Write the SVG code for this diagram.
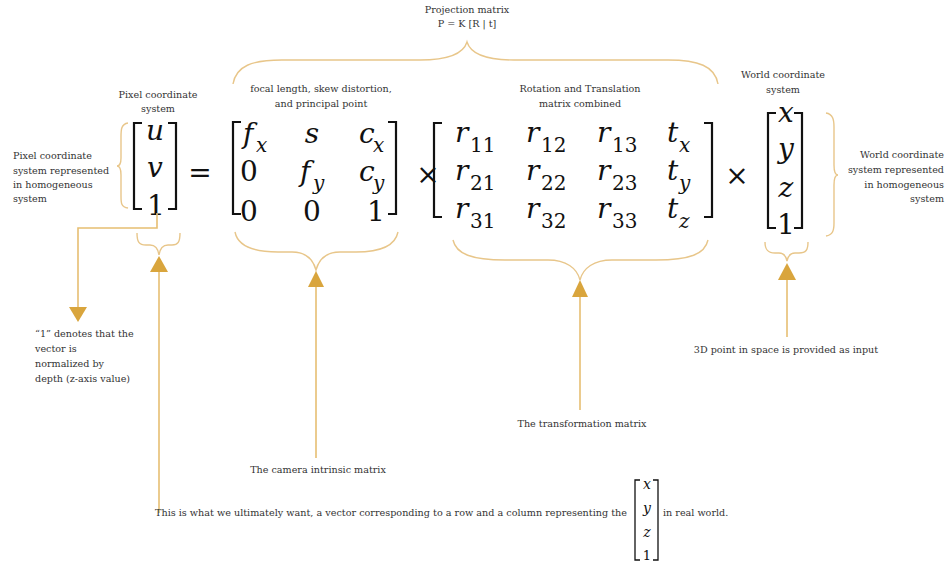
<svg xmlns="http://www.w3.org/2000/svg" width="948" height="564" viewBox="0 0 948 564">
<style>
.lbl{font-family:"DejaVu Serif","Liberation Serif",serif;font-size:9.6px;fill:#333}
.m{font-family:"DejaVu Serif","Liberation Serif",serif;font-size:28px;fill:#111}
.mi{font-family:"DejaVu Serif","Liberation Serif",serif;font-size:28px;font-style:italic;fill:#111}
.sub{font-family:"DejaVu Serif","Liberation Serif",serif;font-size:20px;fill:#111}
.subi{font-family:"DejaVu Serif","Liberation Serif",serif;font-size:20px;font-style:italic;fill:#111}
.smi{font-family:"DejaVu Serif","Liberation Serif",serif;font-size:14px;font-style:italic;fill:#111}
.sm{font-family:"DejaVu Serif","Liberation Serif",serif;font-size:13px;fill:#111}
.brk{fill:none;stroke:#111;stroke-width:2.2}
.brk2{fill:none;stroke:#111;stroke-width:1.3}
.brace{fill:none;stroke:#E8C68A;stroke-width:1.4}
.line{fill:none;stroke:#E6BE72;stroke-width:1.6}
.tri{fill:#D9A53D}
.c{text-anchor:middle}
.e{text-anchor:end}
</style>

<g id="projection-label">
<text class="lbl c" x="467" y="13">Projection matrix</text>
<text class="lbl c" x="467" y="27">P = K [R | t]</text>
</g>

<g id="pixel-vector">
<text class="lbl c" x="158" y="98">Pixel coordinate</text>
<text class="lbl c" x="158" y="112">system</text>
<path class="brk" d="M142,123 H134 V209 H142 M168,123 H176 V209 H168"/>
<text class="mi c" x="155" y="140">u</text>
<text class="mi c" x="155" y="177">v</text>
<text class="m c" x="156" y="215">1</text>
</g>

<g id="pixel-desc">
<text class="lbl" x="13" y="159">Pixel coordinate</text>
<text class="lbl" x="13" y="174">system represented</text>
<text class="lbl" x="13" y="188">in homogeneous</text>
<text class="lbl" x="13" y="202">system</text>
</g>

<g id="equals"><text class="m c" x="200" y="182">=</text></g>

<g id="intrinsic-matrix">
<text class="lbl c" x="321" y="92">focal length, skew distortion,</text>
<text class="lbl c" x="321" y="107">and principal point</text>
<path class="brk" d="M241,122 H233 V214 H241 M388,122 H396 V214 H388"/>
<text class="mi" x="243" y="143">f</text><text class="subi" x="256" y="152">x</text>
<text class="mi c" x="312" y="143">s</text>
<text class="mi" x="359" y="143">c</text><text class="subi" x="373" y="152">x</text>
<text class="m c" x="249" y="181">0</text>
<text class="mi" x="300" y="181">f</text><text class="subi" x="313" y="190">y</text>
<text class="mi" x="359" y="181">c</text><text class="subi" x="373" y="190">y</text>
<text class="m c" x="249" y="221">0</text>
<text class="m c" x="312" y="221">0</text>
<text class="m c" x="376" y="221">1</text>
</g>

<g id="times1"><text class="m c" x="428" y="184">×</text></g>

<g id="rt-matrix">
<text class="lbl c" x="580" y="92">Rotation and Translation</text>
<text class="lbl c" x="580" y="107">matrix combined</text>
<path class="brk" d="M442,123 H434 V217 H442 M704,123 H712 V217 H704"/>
<text class="mi" x="455" y="142">r</text><text class="sub" x="470" y="152">11</text>
<text class="mi" x="526" y="142">r</text><text class="sub" x="541" y="152">12</text>
<text class="mi" x="597" y="142">r</text><text class="sub" x="612" y="152">13</text>
<text class="mi" x="667" y="142">t</text><text class="subi" x="679" y="152">x</text>
<text class="mi" x="455" y="180">r</text><text class="sub" x="470" y="190">21</text>
<text class="mi" x="526" y="180">r</text><text class="sub" x="541" y="190">22</text>
<text class="mi" x="597" y="180">r</text><text class="sub" x="612" y="190">23</text>
<text class="mi" x="667" y="180">t</text><text class="subi" x="679" y="190">y</text>
<text class="mi" x="455" y="218">r</text><text class="sub" x="470" y="228">31</text>
<text class="mi" x="526" y="218">r</text><text class="sub" x="541" y="228">32</text>
<text class="mi" x="597" y="218">r</text><text class="sub" x="612" y="228">33</text>
<text class="mi" x="667" y="218">t</text><text class="subi" x="679" y="228">z</text>
</g>

<g id="times2"><text class="m c" x="737" y="185">×</text></g>

<g id="world-vector">
<text class="lbl c" x="783" y="78">World coordinate</text>
<text class="lbl c" x="783" y="93">system</text>
<path class="brk" d="M776,113 H768 V228 H776 M794,113 H802 V228 H794"/>
<text class="mi c" x="786" y="122">x</text>
<text class="mi c" x="786" y="158">y</text>
<text class="mi c" x="786" y="197">z</text>
<text class="m c" x="786" y="234">1</text>
</g>

<g id="world-desc">
<text class="lbl e" x="944" y="158">World coordinate</text>
<text class="lbl e" x="944" y="173">system represented</text>
<text class="lbl e" x="944" y="188">in homogeneous</text>
<text class="lbl e" x="944" y="202">system</text>
</g>

<g id="braces">
<path class="brace" d="M233,84 C236,66 252,60 282,60 L420,60 C447,60 463,55 467,42 C471,55 487,60 514,60 L668,60 C698,60 715,66 718,84"/>
<path class="brace" d="M128,123 C121,124 121,130 121,137 L121,158 C121,163 120,166 117,166 C120,166 121,170 121,175 L121,196 C121,203 121,207 128,208"/>
<path class="brace" d="M826,113 C833,114 834,120 834,127 L834,165 C834,171 835,175 838,175 C835,175 834,179 834,185 L834,223 C834,230 833,235 826,236"/>
<path class="brace" d="M137,233 C137,242 139,245 146,245 L150,245 C155,245 158,248 159,255 C160,248 163,245 168,245 L172,245 C178,245 180,242 180,233"/>
<path class="brace" d="M235,232 C238,247 255,252 278,252 L292,252 C306,252 313,259 316,270 C319,259 326,252 340,252 L356,252 C378,252 395,247 398,232"/>
<path class="brace" d="M453,240 C456,254 472,260 505,260 L548,260 C566,260 577,268 580,280 C583,268 594,260 612,260 L656,260 C690,260 705,254 708,240"/>
<path class="brace" d="M765,242 C765,250 768,253 775,253 L779,253 C784,253 786,256 787,261 C788,256 790,253 795,253 L799,253 C806,253 808,250 808,242"/>
</g>

<g id="connectors">
<polyline class="line" points="157,213 157,228 78,228 78,308"/>
<polygon class="tri" points="69,307 87,307 78,322"/>
<line class="line" x1="159" y1="271" x2="159" y2="513"/>
<polygon class="tri" points="159,256 168,272 150,272"/>
<line class="line" x1="316" y1="286" x2="316" y2="458"/>
<polygon class="tri" points="316,271 324,287 308,287"/>
<line class="line" x1="580" y1="296" x2="580" y2="410"/>
<polygon class="tri" points="580,280 588,297 572,297"/>
<line class="line" x1="787" y1="279" x2="787" y2="337"/>
<polygon class="tri" points="787,263 796,280 778,280"/>
</g>

<g id="note-one">
<text class="lbl" x="35" y="337">“1” denotes that the</text>
<text class="lbl" x="35" y="352">vector is</text>
<text class="lbl" x="35" y="367">normalized by</text>
<text class="lbl" x="35" y="382">depth (z-axis value)</text>
</g>

<g id="note-intrinsic"><text class="lbl c" x="318" y="473">The camera intrinsic matrix</text></g>
<g id="note-transform"><text class="lbl c" x="582" y="427">The transformation matrix</text></g>
<g id="note-input"><text class="lbl c" x="786" y="353">3D point in space is provided as input</text></g>

<g id="note-bottom">
<text class="lbl" x="155" y="516" textLength="472" lengthAdjust="spacingAndGlyphs">This is what we ultimately want, a vector corresponding to a row and a column representing the</text>
<path class="brk2" d="M640,480 H635 V560 H640 M653,480 H658 V560 H653"/>
<text class="smi c" x="647" y="489">x</text>
<text class="smi c" x="647" y="513">y</text>
<text class="smi c" x="647" y="537">z</text>
<text class="sm c" x="647" y="560">1</text>
<text class="lbl" x="663" y="516">in real world.</text>
</g>
</svg>
